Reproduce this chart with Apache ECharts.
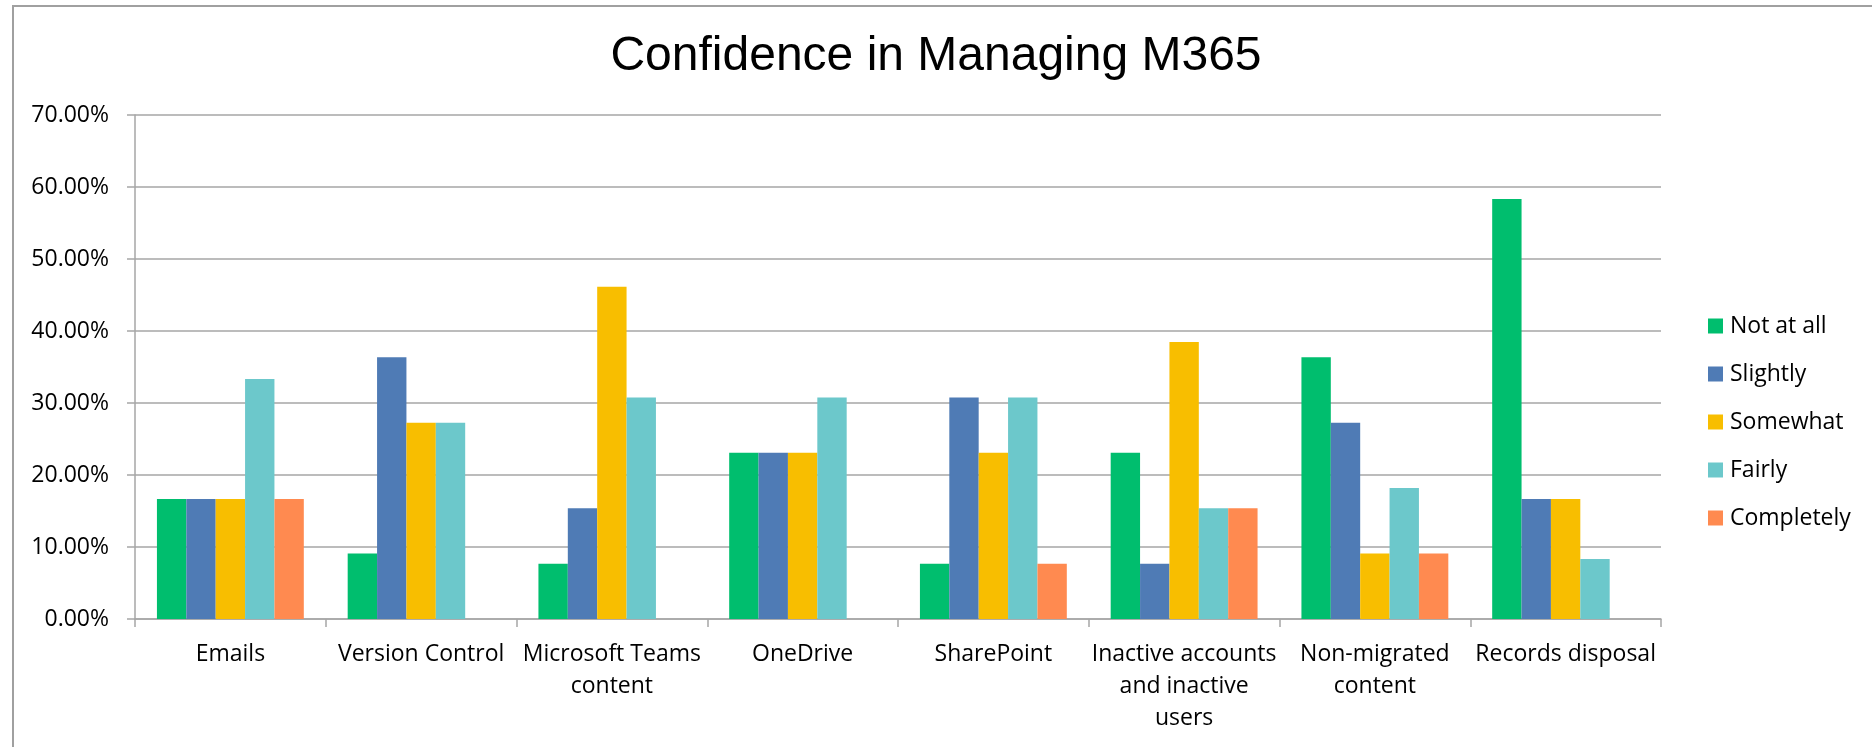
<!DOCTYPE html>
<html>
<head>
<meta charset="utf-8">
<script src="https://cdn.jsdelivr.net/npm/echarts@6/dist/echarts.min.js"></script>
<style>
  html, body { margin: 0; padding: 0; background: #fff; }
  #chart { width: 1872px; height: 747px; }
</style>
</head>
<body>
<div id="chart"></div>
<script>
// categories (line breaks as in the original axis labels)
var categories = [
    'Emails',
    'Version Control',
    'Microsoft Teams\ncontent',
    'OneDrive',
    'SharePoint',
    'Inactive accounts\nand inactive\nusers',
    'Non-migrated\ncontent',
    'Records disposal'
];

// percentages per answer
var notAtAll   = [16.67, 9.09, 7.69, 23.08, 7.69, 23.08, 36.36, 58.33];
var slightly   = [16.67, 36.36, 15.38, 23.08, 30.77, 7.69, 27.27, 16.67];
var somewhat   = [16.67, 27.27, 46.15, 23.08, 23.08, 38.46, 9.09, 16.67];
var fairly     = [33.33, 27.27, 30.77, 30.77, 30.77, 15.38, 18.18, 8.33];
var completely = [16.67, 0, 0, 0, 7.69, 15.38, 9.09, 0];

var seriesNames = ['Not at all', 'Slightly', 'Somewhat', 'Fairly', 'Completely'];
var colors = ['#00BE6E', '#4F7BB5', '#F8BE00', '#6CC8CB', '#FF8A50'];

var yTicks = { min: 0, max: 70, step: 10 };

var labelFont = '"Open Sans", "Noto Sans", sans-serif';
var gray = '#a6a6a6';

var myChart = echarts.init(document.getElementById('chart'));

var values = [notAtAll, slightly, somewhat, fairly, completely];
var series = [];
values.forEach(function (arr, i) {
    series.push({
        name: seriesNames[i],
        type: 'bar',
        data: arr,
        barGap: 0,
        barCategoryGap: '23%',
        itemStyle: { color: colors[i] },
        emphasis: { disabled: true }
    });
});

var option = {
    animation: false,
    color: colors,
    title: {
        text: 'Confidence in Managing M365',
        left: 'center',
        top: 28,
        textStyle: {
            fontFamily: '"Liberation Sans", Arial, sans-serif',
            fontSize: 48,
            fontWeight: 'normal',
            color: '#000'
        }
    },
    legend: {
        orient: 'vertical',
        left: 1703,
        top: 309,
        icon: 'rect',
        itemWidth: 15,
        itemHeight: 15,
        itemGap: 24,
        data: seriesNames,
        textStyle: {
            fontFamily: labelFont,
            fontSize: 23,
            lineHeight: 24,
            color: '#000',
            padding: [0, 0, 0, 2]
        }
    },
    grid: {
        left: 135,
        top: 115,
        width: 1526,
        height: 504
    },
    xAxis: {
        type: 'category',
        data: categories,
        axisLine: { lineStyle: { color: gray, width: 1.5 } },
        axisTick: { show: true, length: 8, lineStyle: { color: gray, width: 1.5 } },
        axisLabel: {
            interval: 0,
            margin: 19,
            fontFamily: labelFont,
            fontSize: 23,
            lineHeight: 32,
            color: '#000'
        }
    },
    yAxis: {
        type: 'value',
        min: yTicks.min,
        max: yTicks.max,
        interval: yTicks.step,
        axisLine: { show: true, lineStyle: { color: gray, width: 1.5 } },
        axisTick: { show: true, length: 8, lineStyle: { color: gray, width: 1.5 } },
        splitLine: { lineStyle: { color: gray, width: 1.5 } },
        axisLabel: {
            margin: 26,
            fontFamily: labelFont,
            fontSize: 23,
            color: '#000',
            formatter: function (v) { return v.toFixed(2) + '%'; }
        }
    },
    graphic: [{
        type: 'rect',
        silent: true,
        shape: { x: 13, y: 6, width: 1900, height: 800 },
        style: { fill: null, stroke: '#a0a0a0', lineWidth: 2 }
    }],
    series: series
};

myChart.setOption(option);
</script>
</body>
</html>
